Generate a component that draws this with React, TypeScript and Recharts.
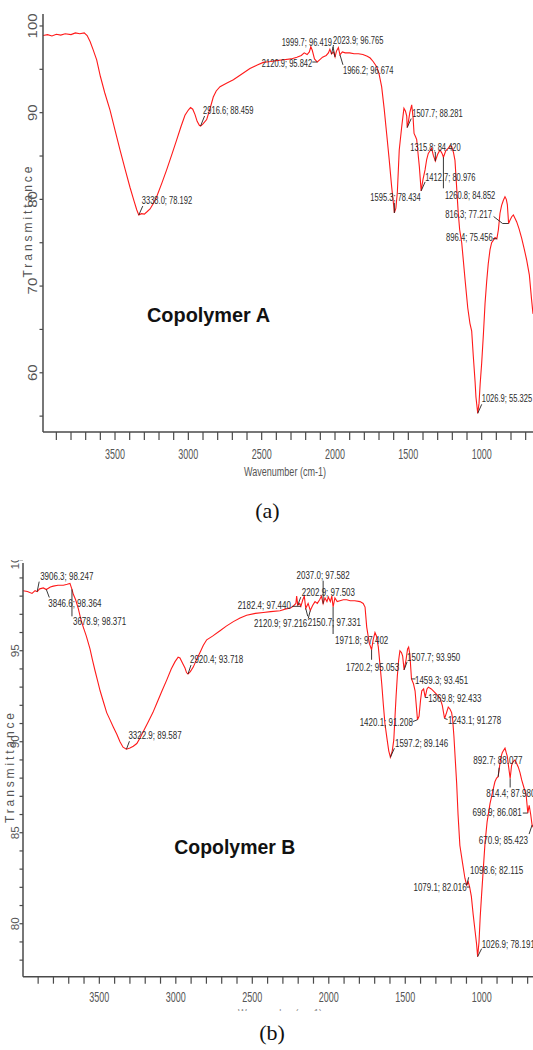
import React from 'react';
import { ComposedChart, Line, Scatter, XAxis, YAxis } from 'recharts';

// ---------- Copolymer A (panel a) ----------
const wavenumbersA = [
  3991, 3960, 3930, 3900, 3870, 3840, 3800, 3770, 3740, 3710, 3690, 3670, 3650, 3625, 3600, 3570, 3534, 3500,
  3466, 3430, 3398, 3370, 3352, 3338, 3320, 3300, 3280, 3261, 3240, 3216, 3180, 3148, 3110, 3079, 3050, 3023,
  3000, 2985, 2970, 2955, 2940, 2925, 2916.6, 2900, 2875, 2850, 2830, 2810, 2784, 2740, 2693, 2640, 2580, 2530,
  2489, 2440, 2400, 2350, 2300, 2260, 2230, 2210, 2190, 2175, 2165, 2155, 2140, 2120.9, 2105, 2085, 2060, 2045,
  2035, 2023.9, 2010, 1999.7, 1990, 1977, 1966.2, 1950, 1930, 1900, 1870, 1840, 1810, 1780, 1760, 1740, 1716,
  1700, 1682, 1665, 1648, 1630, 1614, 1600, 1595.3, 1585, 1575, 1562, 1545, 1530, 1520, 1511, 1507.7, 1500, 1490,
  1477, 1468, 1461, 1450, 1443, 1435, 1425, 1412.7, 1400, 1386, 1375, 1364, 1352, 1341, 1330, 1315.8, 1300, 1284,
  1270, 1260.8, 1245, 1227, 1215, 1205, 1192, 1182, 1171, 1160, 1150, 1136, 1113, 1095, 1080, 1068, 1057, 1045,
  1039, 1026.9, 1018, 1010, 1000, 988, 977, 966, 955, 943, 932, 920, 909, 896.4, 886, 875, 864, 852, 841, 832,
  825, 816.3, 807, 795, 784, 772, 761, 745, 727, 710, 693, 675, 660, 650,
];
const transmittanceA = [
  98.9, 99.0, 98.85, 99.05, 98.95, 99.1, 99.0, 99.2, 99.1, 99.2, 98.9, 98.2, 97.3, 96.1, 94.2, 92.3, 90.3, 88.0,
  85.7, 83.4, 81.4, 79.8, 78.8, 78.192, 78.35, 78.3, 78.6, 78.9, 79.5, 80.3, 81.9, 83.4, 85.3, 86.9, 88.4, 89.7,
  90.3, 90.6, 90.4, 89.8, 89.0, 88.55, 88.459, 88.7, 89.2, 90.6, 91.8, 92.5, 93.0, 93.4, 93.8, 94.4, 95.1, 95.5,
  95.8, 95.9, 96.0, 96.1, 96.2, 96.4, 96.6, 96.9, 96.7, 97.0, 97.6, 97.2, 96.2, 95.842, 96.1, 96.4, 96.6, 96.9,
  97.3, 96.765, 97.0, 96.419, 97.1, 97.5, 96.674, 97.0, 96.9, 96.9, 96.8, 96.8, 96.7, 96.5, 96.3, 95.9, 95.3,
  94.5, 93.0, 90.5, 87.6, 84.5, 81.5, 79.3, 78.434, 79.0, 80.8, 85.7, 88.4, 90.5, 90.2, 89.6, 88.281, 88.9, 90.0,
  90.9, 89.5, 87.6, 87.2, 86.9, 85.5, 83.8, 80.976, 82.3, 83.4, 84.6, 85.3, 85.6, 85.9, 85.1, 84.42, 85.2, 85.7,
  85.3, 84.852, 85.6, 85.9, 86.2, 86.1, 85.4, 84.5, 81.5, 78.5, 76.5, 75.0, 70.7, 67.5, 65.7, 64.8, 61.9, 59.0,
  57.2, 55.325, 56.5, 58.8, 61.1, 64.5, 68.0, 70.5, 72.6, 74.2, 75.0, 75.3, 75.6, 75.456, 76.5, 78.4, 79.3, 79.9, 80.3, 80.0,
  79.4, 77.217, 77.6, 78.0, 78.2, 77.8, 77.4, 76.6, 75.5, 74.3, 73.0, 71.3, 68.5, 66.8,
];
const peakWavenumbersA = [3338.0, 2916.6, 2120.9, 1999.7, 2023.9, 1966.2, 1507.7, 1315.8, 1412.7, 1595.3, 1260.8, 816.3, 896.4, 1026.9];
const peakValuesA = [78.192, 88.459, 95.842, 96.419, 96.765, 96.674, 88.281, 84.42, 80.976, 78.434, 84.852, 77.217, 75.456, 55.325];

// ---------- Copolymer B (panel b) ----------
const wavenumbersB = [
  3999, 3970, 3940, 3920, 3906.3, 3890, 3866, 3846.6, 3820, 3801, 3770, 3735, 3710, 3692, 3678.9, 3670, 3655, 3637,
  3620, 3605, 3585, 3561, 3545, 3528, 3510, 3495, 3470, 3452, 3430, 3408, 3385, 3365, 3345, 3322.9, 3300, 3278,
  3255, 3234, 3210, 3180, 3150, 3125, 3090, 3059, 3030, 3005, 2985, 2973, 2955, 2940, 2930, 2920.4, 2905, 2886,
  2865, 2842, 2820, 2798, 2760, 2711, 2670, 2624, 2580, 2537, 2480, 2428, 2380, 2319, 2280, 2250, 2232, 2215,
  2210, 2202.9, 2190, 2182.4, 2170, 2160, 2150.7, 2135, 2120.9, 2105, 2090, 2075, 2060, 2048, 2037.0, 2025, 2012,
  2003, 1990, 1980, 1971.8, 1960, 1945, 1927, 1905, 1883, 1860, 1830, 1796, 1775, 1763, 1752, 1735, 1720.2, 1710,
  1698, 1688, 1676, 1665, 1654, 1643, 1633, 1620, 1608, 1597.2, 1585, 1575, 1567, 1560, 1552, 1543, 1535, 1525,
  1517, 1507.7, 1495, 1485, 1478, 1470, 1459.3, 1447, 1436, 1420.1, 1410, 1400, 1392, 1380, 1369.8, 1358, 1349,
  1330, 1317, 1295, 1273, 1258, 1243.1, 1230, 1219, 1208, 1197, 1190, 1182, 1173, 1164, 1155, 1143, 1125, 1110,
  1098.6, 1088, 1079.1, 1068, 1056, 1045, 1034, 1026.9, 1018, 1010, 1001, 990, 979, 965, 946, 925, 914, 903,
  892.7, 886, 876, 866, 859, 848, 840, 833, 824, 814.4, 805, 795, 783, 772, 761, 750, 739, 725, 710, 698.9, 690,
  680, 670.9, 665,
];
const transmittanceB = [
  98.3, 98.25, 98.15, 98.3, 98.247, 98.4, 98.45, 98.364, 98.5, 98.55, 98.6, 98.6, 98.65, 98.7, 98.371, 98.1, 97.8, 97.3,
  96.7, 96.3, 95.8, 95.1, 94.5, 93.9, 93.3, 92.8, 92.1, 91.6, 91.2, 90.8, 90.4, 90.0, 89.7, 89.587, 89.65, 89.75,
  89.9, 90.2, 90.6, 91.1, 91.6, 92.1, 92.8, 93.4, 94.0, 94.4, 94.65, 94.6, 94.3, 94.05, 93.8, 93.718, 93.85, 94.1,
  94.5, 94.9, 95.3, 95.6, 95.8, 96.1, 96.35, 96.6, 96.8, 96.95, 97.05, 97.1, 97.15, 97.2, 97.3, 97.35, 97.45, 97.6,
  98.0, 97.503, 97.6, 97.44, 97.8, 98.0, 97.331, 97.6, 97.216, 97.5, 97.7, 97.6, 97.8, 98.0, 97.582, 97.9, 97.7,
  97.95, 97.7, 98.0, 97.402, 97.9, 97.7, 97.75, 97.8, 97.8, 97.75, 97.75, 97.7, 97.6, 97.4, 96.3, 95.4, 95.053, 95.6,
  96.0, 95.8, 95.2, 94.2, 93.2, 92.0, 91.0, 90.2, 89.5, 89.146, 89.5, 90.1, 91.4, 92.5, 93.6, 94.5, 95.0, 94.9,
  94.7, 93.95, 94.5, 95.1, 95.2, 94.8, 93.451, 93.2, 92.8, 91.208, 91.4, 92.3, 92.8, 92.9, 92.433, 92.9, 93.0,
  92.9, 92.8, 92.6, 92.4, 92.0, 91.278, 91.6, 91.9, 91.8, 91.6, 91.2, 90.3, 89.0, 87.7, 86.0, 84.3, 83.3, 82.5,
  82.115, 82.3, 82.016, 81.5, 80.5, 79.7, 78.9, 78.191, 79.0, 80.4, 81.6, 83.0, 84.4, 85.6, 86.6, 87.4, 87.8, 88.0,
  88.077, 88.5, 89.1, 89.4, 89.5, 89.65, 89.4, 89.2, 88.6, 87.98, 88.7, 88.9, 89.0, 88.8, 88.6, 88.3, 87.9, 87.5, 87.1, 86.081, 86.5,
  86.0, 85.423, 85.3,
];
const peakWavenumbersB = [3906.3, 3846.6, 3678.9, 3322.9, 2920.4, 2182.4, 2120.9, 2037.0, 2202.9, 2150.7, 1971.8, 1720.2, 1507.7, 1459.3, 1369.8, 1420.1, 1243.1, 1597.2, 892.7, 814.4, 698.9, 670.9, 1098.6, 1079.1, 1026.9];
const peakValuesB = [98.247, 98.364, 98.371, 89.587, 93.718, 97.44, 97.216, 97.582, 97.503, 97.331, 97.402, 95.053, 93.95, 93.451, 92.433, 91.208, 91.278, 89.146, 88.077, 87.98, 86.081, 85.423, 82.115, 82.016, 78.191];

// ---------- axes ----------
const xTicks = [3900, 3800, 3700, 3600, 3500, 3400, 3300, 3200, 3100, 3000, 2900, 2800, 2700, 2600, 2500, 2400, 2300, 2200, 2100, 2000, 1900, 1800, 1700, 1600, 1500, 1400, 1300, 1200, 1100, 1000, 900, 800, 700];
const yTicksA = [55, 60, 65, 70, 75, 80, 85, 90, 95, 100];
const yTicksB = [78, 79, 80, 81, 82, 83, 84, 85, 86, 87, 88, 89, 90, 91, 92, 93, 94, 95, 96, 97, 98, 99, 100];
const yAxisTitle = 'Transmittance';
const xAxisTitle = 'Wavenumber (cm-1)';
const titleA = 'Copolymer A';
const titleB = 'Copolymer B';

// ---------- callout layout (label offset from peak, anchor, leader polyline) ----------
type Callout = { dx: number; dy: number; anchor: 'start' | 'middle' | 'end'; lead: number[][] };
const calloutsA: Callout[] = [
  { dx: 3, dy: -15, anchor: 'start', lead: [[0, 0], [4, -9]] },
  { dx: 2.5, dy: -16, anchor: 'start', lead: [[0, 0], [4, -10]] },
  { dx: -5, dy: 1, anchor: 'end', lead: [[-5, 0], [0, 0]] },
  { dx: -3, dy: -15, anchor: 'end', lead: [[0, 0], [-2, -10]] },
  { dx: 1.5, dy: -14, anchor: 'start', lead: [[0, 0], [2, -9]] },
  { dx: 3, dy: 15, anchor: 'start', lead: [[0, 0], [3, 10]] },
  { dx: 5, dy: -14.6, anchor: 'start', lead: [[0, 0], [4, -9]] },
  { dx: -25, dy: -14, anchor: 'start', lead: [[0, 0], [0, -9]] },
  { dx: 4, dy: -14, anchor: 'start', lead: [[0, 0], [4, -9]] },
  { dx: -24, dy: -16, anchor: 'start', lead: [[0, 0], [0, -10]] },
  { dx: 1.5, dy: 38, anchor: 'start', lead: [[0, 0], [0, 31]] },
  { dx: -16.6, dy: -9.5, anchor: 'end', lead: [[-15, -7], [-6, 0], [0, 0]] },
  { dx: -4, dy: -1.5, anchor: 'end', lead: [[-4, 0], [0, 0]] },
  { dx: 4, dy: -15, anchor: 'start', lead: [[0, 0], [4, -9]] },
];
const calloutsB: Callout[] = [
  { dx: 3, dy: -15.6, anchor: 'start', lead: [[0, 0], [2, -10]] },
  { dx: 2, dy: 13.5, anchor: 'start', lead: [[0, 0], [3, 8]] },
  { dx: 1, dy: 32, anchor: 'start', lead: [[0, 0], [0, 27]] },
  { dx: 2, dy: -14, anchor: 'start', lead: [[0, 0], [3, -8]] },
  { dx: 2, dy: -15, anchor: 'start', lead: [[0, 0], [3, -9]] },
  { dx: -10, dy: -1, anchor: 'end', lead: [[-9, 0], [0, 0]] },
  { dx: -3, dy: 13, anchor: 'end', lead: [[0, 0], [-2, 8]] },
  { dx: 0, dy: -29, anchor: 'middle', lead: [[0, 0], [0, -23]] },
  { dx: 4, dy: -13, anchor: 'start', lead: [[0, 0], [3, -8]] },
  { dx: 2, dy: 13.5, anchor: 'start', lead: [[0, 0], [2, 8]] },
  { dx: 2, dy: 33, anchor: 'start', lead: [[0, 0], [0, 27]] },
  { dx: -25.6, dy: 17, anchor: 'start', lead: [[0, 0], [0, 10]] },
  { dx: 3, dy: -13, anchor: 'start', lead: [[0, 0], [3, -8]] },
  { dx: 3.5, dy: 1, anchor: 'start', lead: [[0, 0], [4, 0]] },
  { dx: 3, dy: 0.6, anchor: 'start', lead: [[0, 0], [3, 0]] },
  { dx: -4.6, dy: 2.4, anchor: 'end', lead: [[-5, 2], [0, 0]] },
  { dx: 3.4, dy: 1.7, anchor: 'start', lead: [[0, 0], [3, 1]] },
  { dx: 4.6, dy: -14, anchor: 'start', lead: [[0, 0], [4, -9]] },
  { dx: -25, dy: -16.7, anchor: 'start', lead: [[0, 0], [1, -9]] },
  { dx: -24, dy: 14.5, anchor: 'start', lead: [[0, 0], [0, 9]] },
  { dx: -6, dy: -1, anchor: 'end', lead: [[-5, 0], [0, 0]] },
  { dx: -4, dy: 15, anchor: 'end', lead: [[0, 0], [-3, 9]] },
  { dx: 3.3, dy: -15, anchor: 'start', lead: [[0, 0], [2, -8]] },
  { dx: -3, dy: 0, anchor: 'end', lead: [[-3, 0], [0, 0]] },
  { dx: 4, dy: -12, anchor: 'start', lead: [[0, 0], [4, -8]] },
];

const FONT = "'Liberation Sans', Arial, sans-serif";
const AXIS = '#4a4a4a';

const lineA = wavenumbersA.map((w, i) => ({ w, t: transmittanceA[i] }));
const lineB = wavenumbersB.map((w, i) => ({ w, t: transmittanceB[i] }));
const fmt = (w: number, t: number) => `${w.toFixed(1)}; ${t.toFixed(3)}`;
const peaksA = peakWavenumbersA.map((w, i) => ({ w, t: peakValuesA[i], label: fmt(w, peakValuesA[i]), c: calloutsA[i] }));
const peaksB = peakWavenumbersB.map((w, i) => ({ w, t: peakValuesB[i], label: fmt(w, peakValuesB[i]), c: calloutsB[i] }));

const makeCallout = (charW: number) => (props: any) => {
  const { cx, cy, payload } = props;
  if (cx == null || cy == null || !payload) return <g />;
  const c: Callout = payload.c;
  const pts = c.lead.map((p) => `${cx + p[0]},${cy + p[1]}`).join(' ');
  const label: string = payload.label;
  return (
    <g>
      <polyline points={pts} fill="none" stroke="#222" strokeWidth={0.9} />
      <text
        x={cx + c.dx}
        y={cy + c.dy + 3.8}
        textAnchor={c.anchor}
        fontFamily={FONT}
        fontSize={10.5}
        textLength={label.length * charW}
        lengthAdjust="spacingAndGlyphs"
        fill="#2b2b2b"
      >
        {label}
      </text>
    </g>
  );
};

const makeXTick = (dy: number) => (props: any) => {
  const { x, y, payload } = props;
  const v = payload.value;
  if (v % 500 !== 0) return <g />;
  return (
    <text x={x} y={y + dy} textAnchor="middle" fontFamily={FONT} fontSize={15.5} textLength={20}
      lengthAdjust="spacingAndGlyphs" fill="#555">{v}</text>
  );
};

const makeYTick = (step: number, fontSize: number, charW: number) => (props: any) => {
  const { x, y, payload } = props;
  const v = payload.value;
  if (v % step !== 0) return <g />;
  const s = String(v);
  return (
    <text x={x} y={y} transform={`rotate(-90 ${x} ${y})`} textAnchor="middle" fontFamily={FONT}
      fontSize={fontSize} textLength={s.length * charW} lengthAdjust="spacingAndGlyphs" fill="#555">{s}</text>
  );
};

type SpecProps = {
  line: { w: number; t: number }[];
  peaks: any[];
  height: number;
  marginTop: number;
  yWidth: number;
  xHeight: number;
  xDomain: [number, number];
  yDomain: [number, number];
  yTicks: number[];
  yStep: number;
  yFont: number;
  yCharW: number;
  yTickSize: number;
  yTickMargin: number;
  xTickSize: number;
  xLabelDy: number;
  charW: number;
};

function Spectrum(p: SpecProps) {
  return (
    <ComposedChart width={533} height={p.height} data={p.line} margin={{ top: p.marginTop, right: 0, bottom: 0, left: 0 }}>
      <XAxis xAxisId="top" orientation="top" type="number" dataKey="w" domain={p.xDomain} reversed allowDataOverflow
        height={0} tick={false} tickLine={false} axisLine={{ stroke: AXIS, strokeWidth: 1.5 }} />
      <XAxis dataKey="w" type="number" domain={p.xDomain} reversed allowDataOverflow ticks={xTicks} interval={0}
        height={p.xHeight} tickSize={p.xTickSize} tickMargin={2} tick={makeXTick(p.xLabelDy)}
        tickLine={{ stroke: AXIS, strokeWidth: 1.2 }} axisLine={{ stroke: AXIS, strokeWidth: 1.5 }} />
      <YAxis type="number" domain={p.yDomain} allowDataOverflow ticks={p.yTicks} interval={0} width={p.yWidth}
        tickSize={p.yTickSize} tickMargin={p.yTickMargin} tick={makeYTick(p.yStep, p.yFont, p.yCharW)}
        tickLine={{ stroke: AXIS, strokeWidth: 1.2 }} axisLine={{ stroke: AXIS, strokeWidth: 1.5 }} />
      <Line dataKey="t" type="linear" stroke="#ff1a1a" strokeWidth={1.1} dot={false} activeDot={false}
        isAnimationActive={false} />
      <Scatter data={p.peaks} dataKey="t" isAnimationActive={false} shape={makeCallout(p.charW)} />
    </ComposedChart>
  );
}

export default function App() {
  return (
    <div style={{ position: 'absolute', left: 0, top: 0, width: 533, height: 1050, background: '#fff', fontFamily: FONT }}>
      <div style={{ position: 'absolute', left: 0, top: 0 }}>
        <Spectrum line={lineA} peaks={peaksA} height={480} marginTop={14} yWidth={43} xHeight={48}
          xDomain={[650, 3991]} yDomain={[53.17, 101.38]} yTicks={yTicksA} yStep={10} yFont={12.5} yCharW={8.3}
          yTickSize={3.5} yTickMargin={2} xTickSize={8} xLabelDy={17} charW={3.6} />
      </div>
      <div style={{ position: 'absolute', left: 0, top: 560, width: 533, height: 451, overflow: 'hidden' }}>
        <div style={{ position: 'absolute', left: 0, top: -20 }}>
          <Spectrum line={lineB} peaks={peaksB} height={480} marginTop={23} yWidth={23} xHeight={43.3}
            xDomain={[665, 3999]} yDomain={[77.09, 99.82]} yTicks={yTicksB} yStep={5} yFont={10.5} yCharW={6.5}
            yTickSize={3.5} yTickMargin={0} xTickSize={7} xLabelDy={16} charW={3.8} />
        </div>
      </div>
      <svg width={533} height={1050} style={{ position: 'absolute', left: 0, top: 0, pointerEvents: 'none' }}>
        <defs>
          <clipPath id="clipTitleB">
            <rect x={0} y={0} width={533} height={1011} />
          </clipPath>
        </defs>
        {/* panel a titles */}
        <text x={32} y={222} transform="rotate(-90 32 222)" textAnchor="middle" fontFamily={FONT} fontSize={12}
          textLength={111} lengthAdjust="spacing" fill="#555">{yAxisTitle}</text>
        <text x={285} y={476} textAnchor="middle" fontFamily={FONT} fontSize={12.5} textLength={82}
          lengthAdjust="spacingAndGlyphs" fill="#555">{xAxisTitle}</text>
        <text x={147} y={321.5} fontFamily={FONT} fontWeight="bold" fontSize={20} textLength={123}
          lengthAdjust="spacingAndGlyphs" fill="#111">{titleA}</text>
        <text x={267.5} y={518} textAnchor="middle" fontFamily="'Liberation Serif', 'Times New Roman', serif"
          fontSize={22} fill="#111">(a)</text>
        {/* panel b titles */}
        <text x={14} y={768} transform="rotate(-90 14 768)" textAnchor="middle" fontFamily={FONT} fontSize={12}
          textLength={110} lengthAdjust="spacing" fill="#555">{yAxisTitle}</text>
        <text x={280} y={1018} textAnchor="middle" fontFamily={FONT} fontSize={12.5} textLength={84}
          lengthAdjust="spacingAndGlyphs" fill="#8a8a8a" clipPath="url(#clipTitleB)">{xAxisTitle}</text>
        <text x={174.3} y={854} fontFamily={FONT} fontWeight="bold" fontSize={20} textLength={121}
          lengthAdjust="spacingAndGlyphs" fill="#111">{titleB}</text>
        <text x={272} y={1040} textAnchor="middle" fontFamily="'Liberation Serif', 'Times New Roman', serif"
          fontSize={22} fill="#111">(b)</text>
      </svg>
    </div>
  );
}
